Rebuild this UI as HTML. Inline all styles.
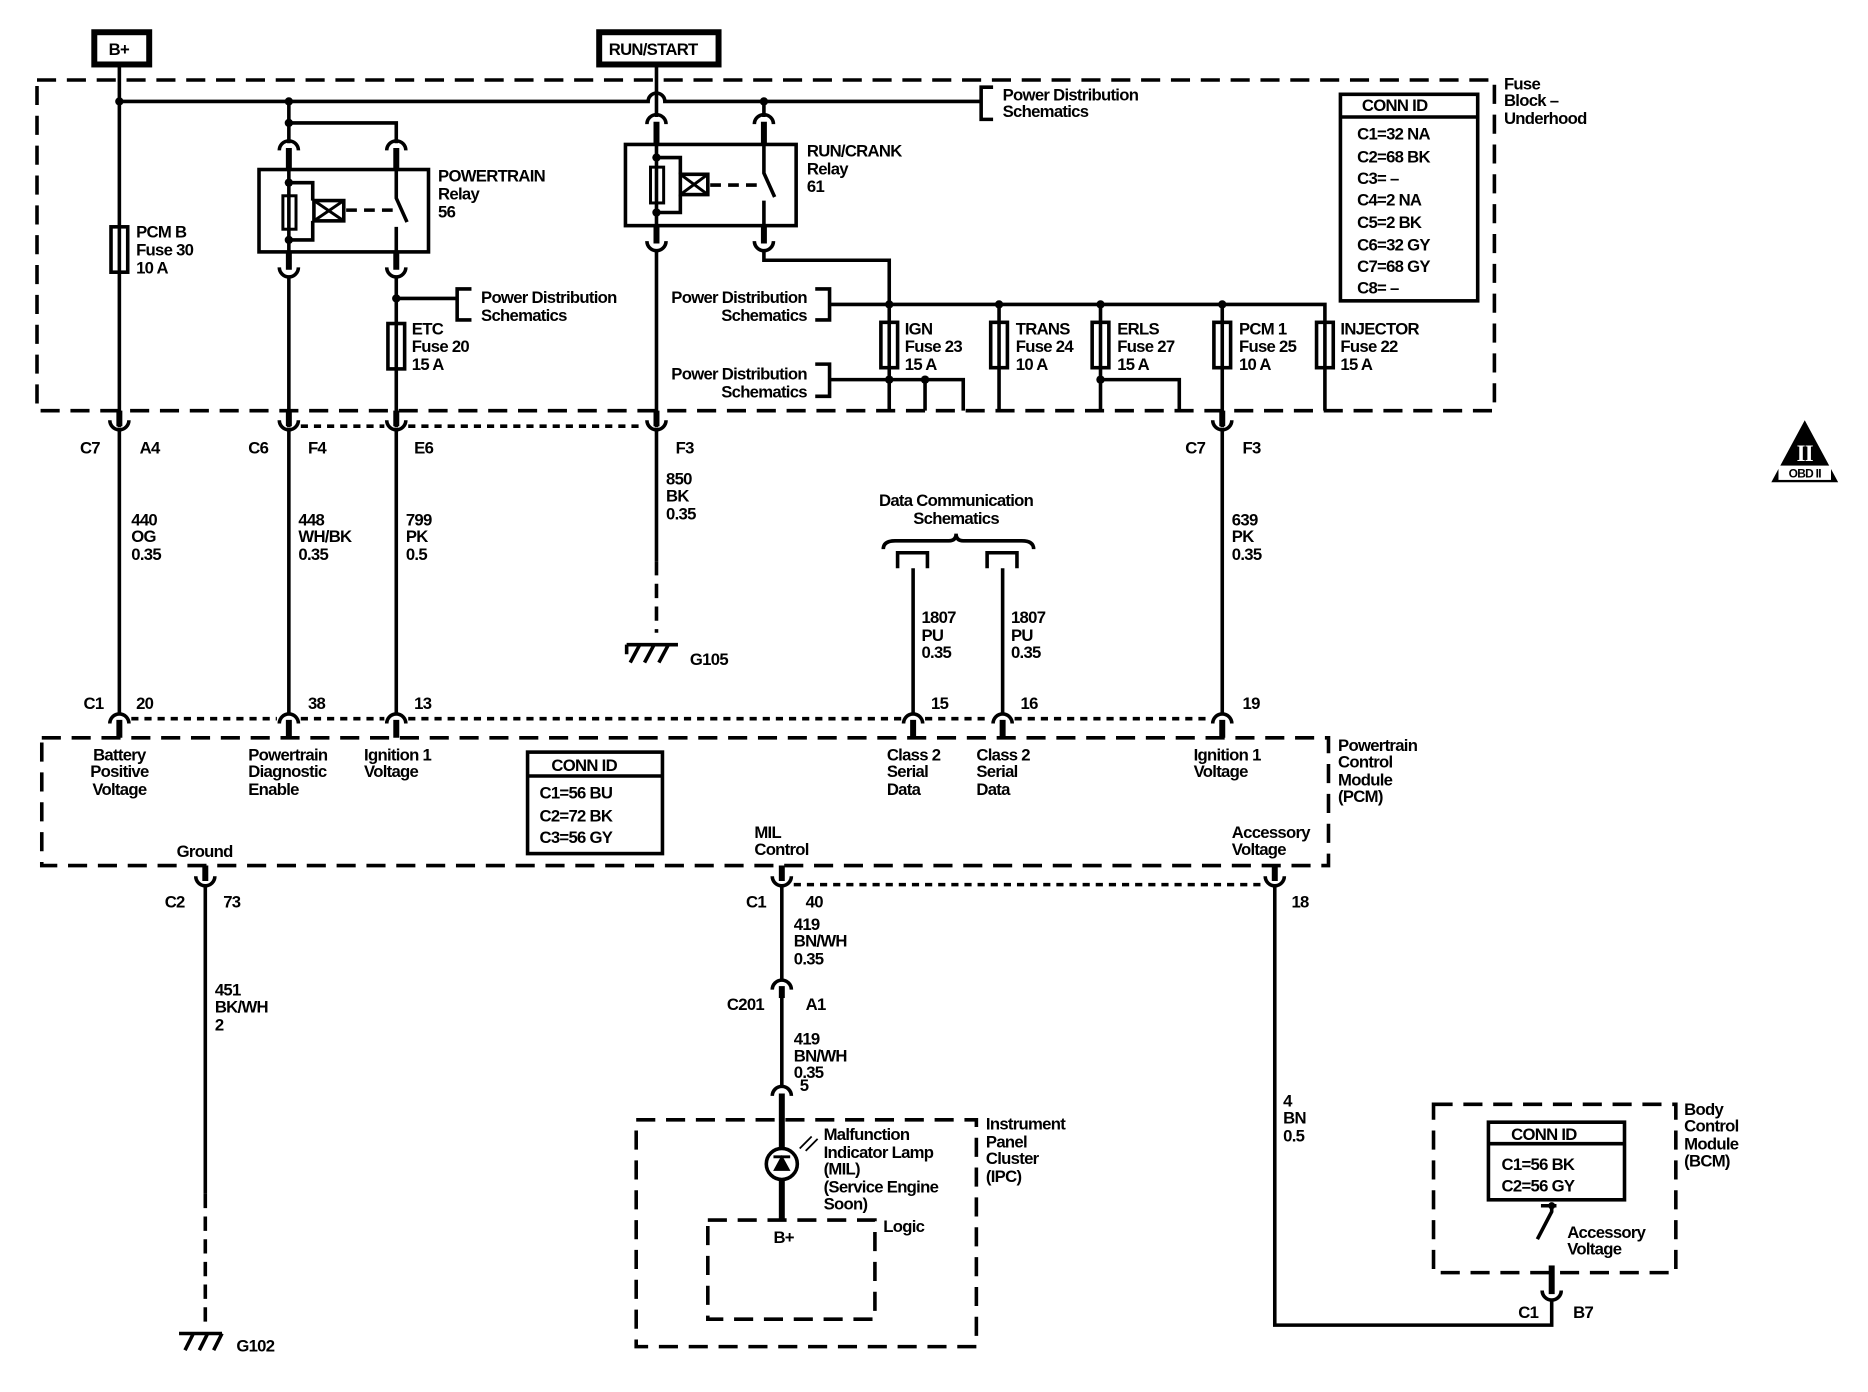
<!DOCTYPE html>
<html><head><meta charset="utf-8"><style>
html,body{margin:0;padding:0;background:#fff}
svg{display:block}
text{font-family:"Liberation Sans",sans-serif;font-size:14px;font-weight:bold;fill:#000;letter-spacing:-0.6px}
</style></head><body>
<svg width="1868" height="1392" viewBox="0 0 1565 1166" preserveAspectRatio="none" xmlns="http://www.w3.org/2000/svg">
<g fill="none" stroke="#000" stroke-width="3">
<rect x="31" y="67" width="1221" height="277" stroke-dasharray="16 9"/>
<rect x="35" y="618" width="1078" height="107" stroke-dasharray="16 9"/>
<rect x="533" y="938" width="285" height="190" stroke-dasharray="16 9"/>
<rect x="593" y="1022" width="140" height="83" stroke-dasharray="16 9"/>
<rect x="1201" y="925" width="203" height="141" stroke-dasharray="16 9"/>
<rect x="79" y="27" width="46" height="27" stroke-width="5"/>
<rect x="502" y="27" width="100" height="27" stroke-width="5"/>
<path d="M100 85 H543 a7 7 0 0 1 14 0 H822"/>
<path d="M832 73 H822 V100 H832"/>
<path d="M100 54 V358"/>
<rect x="93" y="190" width="14" height="38"/>
<path d="M242 85 V120 M242 103 H332 V120"/>
<rect x="217" y="142" width="142" height="69"/>
<path d="M234 126 a8 8 0 0 1 16 0 M324 126 a8 8 0 0 1 16 0"/>
<path d="M242 124 V142 M332 124 V142 M242 211 V226 M332 211 V226" stroke-width="5"/>
<path d="M242 142 V211 M332 142 V166 L341 186 M332 190 V211"/>
<rect x="237" y="164" width="11" height="28" stroke-width="2.5"/>
<path d="M242 153 H262 V168 M262 185 V201 H242"/>
<rect x="263" y="168" width="25" height="17" stroke-width="3"/>
<path d="M263 168 L288 185 M288 168 L263 185" stroke-width="2.5"/>
<path d="M290 176 H330" stroke-dasharray="9 6"/>
<path d="M234 224 a8 8 0 0 0 16 0 M324 224 a8 8 0 0 0 16 0"/>
<path d="M242 232 V358 M332 232 V358 M332 250 H383"/>
<path d="M395 242 H383 V268 H395"/>
<rect x="325" y="271" width="14" height="38"/>
<path d="M550 54 V98 M640 85 V98"/>
<rect x="524" y="121" width="143" height="68"/>
<path d="M542 104 a8 8 0 0 1 16 0 M632 104 a8 8 0 0 1 16 0"/>
<path d="M550 102 V121 M640 102 V121 M550 189 V204 M640 189 V204" stroke-width="5"/>
<path d="M550 121 V189 M640 121 V145 L649 165 M640 168 V189"/>
<rect x="545" y="140" width="11" height="30" stroke-width="2.5"/>
<path d="M550 132 H570 V146 M570 163 V178 H550"/>
<rect x="570" y="146" width="23" height="17"/>
<path d="M570 146 L593 163 M593 146 L570 163" stroke-width="2.5"/>
<path d="M595 155 H638" stroke-dasharray="9 6"/>
<path d="M542 202 a8 8 0 0 0 16 0 M632 202 a8 8 0 0 0 16 0"/>
<path d="M550 210 V358 M640 210 V218 H745 V255"/>
<path d="M695 255 H1110 V344"/>
<path d="M683 242 H695 V268 H683 M683 305 H695 V332 H683"/>
<path d="M695 318 H807 V344 M745 255 V344 M775 318 V344 M837 255 V344 M922 255 V344 M922 318 H988 V344 M1024 255 V358"/>
<rect x="738" y="270" width="14" height="38"/>
<rect x="830" y="270" width="14" height="38"/>
<rect x="915" y="270" width="14" height="38"/>
<rect x="1017" y="270" width="14" height="38"/>
<rect x="1103" y="270" width="14" height="38"/>
<rect x="1123" y="79" width="115" height="173"/>
<path d="M1123 98 H1238"/>
<path d="M100 344 V357 M242 344 V357 M332 344 V357 M550 344 V357 M1024 344 V357" stroke-width="5"/>
<path d="M92 352 a8 8 0 0 0 16 0 M234 352 a8 8 0 0 0 16 0 M324 352 a8 8 0 0 0 16 0 M542 352 a8 8 0 0 0 16 0 M1016 352 a8 8 0 0 0 16 0"/>
<path d="M252 357 H322 M342 357 H540" stroke-dasharray="6 5"/>
<path d="M100 360 V598 M242 360 V598 M332 360 V598 M1024 360 V598 M550 360 V470"/>
<path d="M550 470 V530" stroke-dasharray="12 7"/>
<path d="M525 540 H568 M528 555 L536 540 M540 555 L548 540 M552 555 L560 540 M525 540 V548"/>
<path d="M740 460 Q740 453 750 453 H795 Q801 453 801 447 Q801 453 807 453 H856 Q866 453 866 460"/>
<path d="M752 476 V463 H777 V476 M827 476 V463 H852 V476"/>
<path d="M765 476 V598 M840 476 V598"/>
<path d="M92 606 a8 8 0 0 1 16 0 M234 606 a8 8 0 0 1 16 0 M324 606 a8 8 0 0 1 16 0 M757 606 a8 8 0 0 1 16 0 M832 606 a8 8 0 0 1 16 0 M1016 606 a8 8 0 0 1 16 0"/>
<path d="M100 603 V618 M242 603 V618 M332 603 V618 M765 603 V618 M840 603 V618 M1024 603 V618" stroke-width="5"/>
<path d="M110 602 H232 M252 602 H322 M342 602 H755 M775 602 H830 M850 602 H1014" stroke-dasharray="6 5"/>
<rect x="442" y="630" width="113" height="85"/>
<path d="M442 650 H555"/>
<path d="M172 725 V738 M655 725 V738 M1068 725 V738" stroke-width="5"/>
<path d="M164 734 a8 8 0 0 0 16 0 M647 734 a8 8 0 0 0 16 0 M1060 734 a8 8 0 0 0 16 0"/>
<path d="M665 741 H1058" stroke-dasharray="6 5"/>
<path d="M172 742 V1000"/>
<path d="M172 1000 V1112" stroke-dasharray="12 7"/>
<path d="M150 1117 H186 M155 1131 L162 1117 M167 1131 L174 1117 M179 1131 L186 1117"/>
<path d="M655 742 V822"/>
<path d="M647 829 a8 8 0 0 1 16 0"/>
<path d="M655 826 V836" stroke-width="5"/>
<path d="M655 836 V910"/>
<path d="M647 918 a8 8 0 0 1 16 0"/>
<path d="M655 916 V1022" stroke-width="5"/>
<circle cx="655" cy="975" r="13" fill="#fff"/>
<path d="M648 969 H662" stroke-width="2.5"/>
<path d="M655 969 L649 980 H661 Z" fill="#000" stroke-width="1.5"/>
<path d="M670 962 L680 952 M675 964 L685 954" stroke-width="1.5"/>
<path d="M1068 742 V1110 H1300 V1090"/>
<path d="M1292 1081 a8 8 0 0 0 16 0"/>
<path d="M1300 1060 V1084" stroke-width="5"/>
<rect x="1247" y="940" width="114" height="65"/>
<path d="M1247 958 H1361"/>
<path d="M1291 1010 H1304 M1300 1010 V1015 L1288 1038"/>
</g>
<g fill="#000">
<circle cx="100" cy="85" r="3.5"/><circle cx="242" cy="85" r="3.5"/><circle cx="242" cy="103" r="3.5"/>
<circle cx="242" cy="153" r="3.5"/><circle cx="242" cy="201" r="3.5"/><circle cx="332" cy="250" r="3.5"/>
<circle cx="640" cy="85" r="3.5"/><circle cx="550" cy="132" r="3.5"/><circle cx="550" cy="178" r="3.5"/>
<circle cx="745" cy="255" r="3.5"/><circle cx="837" cy="255" r="3.5"/><circle cx="922" cy="255" r="3.5"/><circle cx="1024" cy="255" r="3.5"/>
<circle cx="745" cy="318" r="3.5"/><circle cx="775" cy="318" r="3.5"/><circle cx="922" cy="318" r="3.5"/>
<circle cx="1300" cy="1010" r="3"/>
<path d="M1512 352 L1540 404 H1484 Z"/>
</g>
<rect x="1490" y="390" width="44" height="12" fill="#fff"/>
<text x="1512" y="400" text-anchor="middle" style="font-size:10px">OBD II</text>
<text x="1512" y="386" text-anchor="middle" style="font-size:19px;fill:#fff;font-family:'Liberation Serif',serif">II</text>
<text x="91" y="46">B+</text>
<text x="510" y="46">RUN/START</text>
<text x="840" y="84">Power Distribution</text><text x="840" y="98">Schematics</text>
<text x="1260" y="75">Fuse</text><text x="1260" y="89">Block –</text><text x="1260" y="104">Underhood</text>
<text x="1141" y="93">CONN ID</text>
<text x="1137" y="117">C1=32 NA</text><text x="1137" y="136">C2=68 BK</text><text x="1137" y="154">C3= –</text><text x="1137" y="172">C4=2 NA</text><text x="1137" y="191">C5=2 BK</text><text x="1137" y="210">C6=32 GY</text><text x="1137" y="228">C7=68 GY</text><text x="1137" y="246">C8= –</text>
<text x="114" y="199">PCM B</text><text x="114" y="214">Fuse 30</text><text x="114" y="229">10 A</text>
<text x="367" y="152">POWERTRAIN</text><text x="367" y="167">Relay</text><text x="367" y="182">56</text>
<text x="676" y="131">RUN/CRANK</text><text x="676" y="146">Relay</text><text x="676" y="161">61</text>
<text x="403" y="254">Power Distribution</text><text x="403" y="269">Schematics</text>
<text x="345" y="280">ETC</text><text x="345" y="295">Fuse 20</text><text x="345" y="310">15 A</text>
<text x="676" y="254" text-anchor="end">Power Distribution</text><text x="676" y="269" text-anchor="end">Schematics</text>
<text x="676" y="318" text-anchor="end">Power Distribution</text><text x="676" y="333" text-anchor="end">Schematics</text>
<text x="758" y="280">IGN</text><text x="758" y="295">Fuse 23</text><text x="758" y="310">15 A</text>
<text x="851" y="280">TRANS</text><text x="851" y="295">Fuse 24</text><text x="851" y="310">10 A</text>
<text x="936" y="280">ERLS</text><text x="936" y="295">Fuse 27</text><text x="936" y="310">15 A</text>
<text x="1038" y="280">PCM 1</text><text x="1038" y="295">Fuse 25</text><text x="1038" y="310">10 A</text>
<text x="1123" y="280">INJECTOR</text><text x="1123" y="295">Fuse 22</text><text x="1123" y="310">15 A</text>
<text x="67" y="380">C7</text><text x="117" y="380">A4</text>
<text x="208" y="380">C6</text><text x="258" y="380">F4</text>
<text x="347" y="380">E6</text><text x="566" y="380">F3</text>
<text x="993" y="380">C7</text><text x="1041" y="380">F3</text>
<text x="110" y="440">440</text><text x="110" y="454">OG</text><text x="110" y="469">0.35</text>
<text x="250" y="440">448</text><text x="250" y="454">WH/BK</text><text x="250" y="469">0.35</text>
<text x="340" y="440">799</text><text x="340" y="454">PK</text><text x="340" y="469">0.5</text>
<text x="558" y="406">850</text><text x="558" y="420">BK</text><text x="558" y="435">0.35</text>
<text x="1032" y="440">639</text><text x="1032" y="454">PK</text><text x="1032" y="469">0.35</text>
<text x="801" y="424" text-anchor="middle">Data Communication</text><text x="801" y="439" text-anchor="middle">Schematics</text>
<text x="772" y="522">1807</text><text x="772" y="537">PU</text><text x="772" y="551">0.35</text>
<text x="847" y="522">1807</text><text x="847" y="537">PU</text><text x="847" y="551">0.35</text>
<text x="578" y="557">G105</text>
<text x="70" y="594">C1</text><text x="114" y="594">20</text><text x="258" y="594">38</text><text x="347" y="594">13</text>
<text x="780" y="594">15</text><text x="855" y="594">16</text><text x="1041" y="594">19</text>
<text x="100" y="637" text-anchor="middle">Battery</text><text x="100" y="651" text-anchor="middle">Positive</text><text x="100" y="666" text-anchor="middle">Voltage</text>
<text x="208" y="637">Powertrain</text><text x="208" y="651">Diagnostic</text><text x="208" y="666">Enable</text>
<text x="305" y="637">Ignition 1</text><text x="305" y="651">Voltage</text>
<text x="743" y="637">Class 2</text><text x="743" y="651">Serial</text><text x="743" y="666">Data</text>
<text x="818" y="637">Class 2</text><text x="818" y="651">Serial</text><text x="818" y="666">Data</text>
<text x="1000" y="637">Ignition 1</text><text x="1000" y="651">Voltage</text>
<text x="1121" y="629">Powertrain</text><text x="1121" y="643">Control</text><text x="1121" y="658">Module</text><text x="1121" y="672">(PCM)</text>
<text x="462" y="646">CONN ID</text>
<text x="452" y="669">C1=56 BU</text><text x="452" y="688">C2=72 BK</text><text x="452" y="706">C3=56 GY</text>
<text x="148" y="718">Ground</text>
<text x="632" y="702">MIL</text><text x="632" y="716">Control</text>
<text x="1032" y="702">Accessory</text><text x="1032" y="716">Voltage</text>
<text x="138" y="760">C2</text><text x="187" y="760">73</text>
<text x="625" y="760">C1</text><text x="675" y="760">40</text><text x="1082" y="760">18</text>
<text x="180" y="834">451</text><text x="180" y="848">BK/WH</text><text x="180" y="863">2</text>
<text x="665" y="779">419</text><text x="665" y="793">BN/WH</text><text x="665" y="808">0.35</text>
<text x="609" y="846">C201</text><text x="675" y="846">A1</text>
<text x="665" y="875">419</text><text x="665" y="889">BN/WH</text><text x="665" y="903">0.35</text>
<text x="670" y="914">5</text>
<text x="690" y="955">Malfunction</text><text x="690" y="970">Indicator Lamp</text><text x="690" y="984">(MIL)</text><text x="690" y="999">(Service Engine</text><text x="690" y="1013">Soon)</text>
<text x="826" y="946">Instrument</text><text x="826" y="961">Panel</text><text x="826" y="975">Cluster</text><text x="826" y="990">(IPC)</text>
<text x="740" y="1032">Logic</text><text x="648" y="1041">B+</text>
<text x="198" y="1132">G102</text>
<text x="1075" y="927">4</text><text x="1075" y="941">BN</text><text x="1075" y="956">0.5</text>
<text x="1411" y="934">Body</text><text x="1411" y="948">Control</text><text x="1411" y="963">Module</text><text x="1411" y="977">(BCM)</text>
<text x="1266" y="955">CONN ID</text>
<text x="1258" y="980">C1=56 BK</text><text x="1258" y="998">C2=56 GY</text>
<text x="1313" y="1037">Accessory</text><text x="1313" y="1051">Voltage</text>
<text x="1272" y="1104">C1</text><text x="1318" y="1104">B7</text>
</svg>
</body></html>
